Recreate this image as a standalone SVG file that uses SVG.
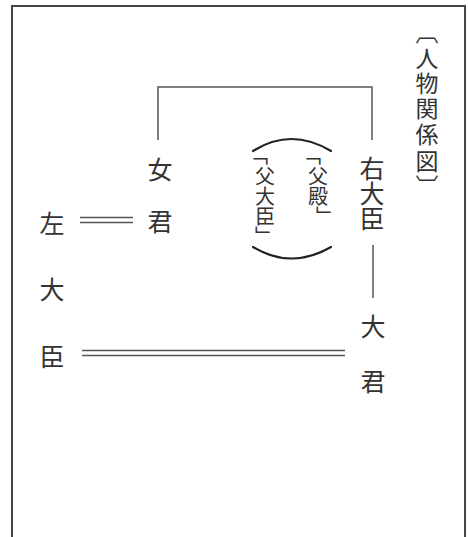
<svg xmlns="http://www.w3.org/2000/svg" width="468" height="537" viewBox="0 0 468 537">
<style>
.t{font-family:"Noto Sans CJK JP","Noto Sans CJK SC",sans-serif;fill:#333;text-anchor:middle;dominant-baseline:central}
.v{font-family:"Noto Sans CJK JP","Noto Sans CJK SC",sans-serif;fill:#333;text-anchor:start;writing-mode:vertical-rl;text-orientation:upright}
.nv{font-feature-settings:"vert" 0,"vrt2" 0}
.m{font-size:25px}
.p{font-size:20px}
.h{font-size:23px}
.ln{fill:none;stroke:#555;stroke-width:1.5}
.arc{fill:none;stroke:#222;stroke-width:2.2;stroke-linecap:round}
</style>
<rect width="468" height="537" fill="#fff"/>
<path d="M12,537 V6 H465 V537" fill="none" stroke="#444" stroke-width="2"/>
<g id="title">
<text class="v h" x="427" y="21">〔</text>
<text class="v h" x="427" y="46.5">人</text>
<text class="v h" x="427" y="71.5">物</text>
<text class="v h" x="427" y="96.5">関</text>
<text class="v h" x="427" y="122.5">係</text>
<text class="v h" x="427" y="149.5">図</text>
<text class="v h" x="427" y="175">〕</text>
</g>
<g id="connectors">
<path class="ln" d="M158,140 V87 H372 V140"/>
<path class="ln" d="M373,245 V298"/>
<path class="ln" d="M80,217.5 H133 M80,222.5 H133"/>
<path class="ln" d="M82,350.5 H345 M82,355.5 H345"/>
<path class="arc" d="M253,151 Q291,127 331,151"/>
<path class="arc" d="M253,247 Q291,270 331,247"/>
</g>
<g id="onnagimi">
<text class="t m" x="160" y="168">女</text>
<text class="t m" x="160" y="220">君</text>
</g>
<g id="sadaijin">
<text class="t m" x="52" y="222">左</text>
<text class="t m" x="52" y="288">大</text>
<text class="t m" x="52" y="355">臣</text>
</g>
<g id="udaijin">
<text class="v m" x="372" y="155.5">右</text>
<text class="v m" x="372" y="180.5">大</text>
<text class="v m" x="372" y="205.5">臣</text>
</g>
<g id="ookimi">
<text class="t m" x="373" y="325">大</text>
<text class="t m" x="373" y="380">君</text>
</g>
<g id="chichi-daijin">
<text class="v p nv" x="258" y="145.7">「</text>
<text class="v p" x="265" y="166">父</text>
<text class="v p" x="265" y="186.3">大</text>
<text class="v p" x="265" y="206.6">臣</text>
<text class="v p nv" x="265" y="226.9">」</text>
</g>
<g id="chichi-dono">
<text class="v p nv" x="311" y="145.7">「</text>
<text class="v p" x="318" y="166">父</text>
<text class="v p" x="318" y="186.3">殿</text>
<text class="v p nv" x="326" y="206.6">」</text>
</g>
</svg>
